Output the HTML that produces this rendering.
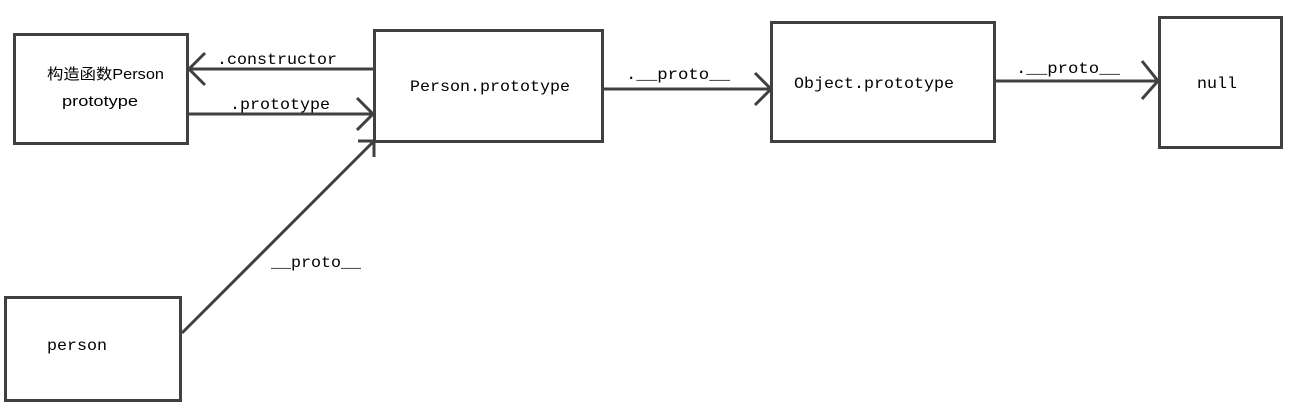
<!DOCTYPE html>
<html><head><meta charset="utf-8"><style>
html,body{margin:0;padding:0;background:#fff;width:1304px;height:420px;overflow:hidden}
</style></head><body>
<svg width="1304" height="420" xmlns="http://www.w3.org/2000/svg">
<g fill="none" stroke="#404040" stroke-width="3">
<rect x="14.5" y="34.5" width="173" height="109"/>
<rect x="374.5" y="30.5" width="228" height="111"/>
<rect x="771.5" y="22.5" width="223" height="119"/>
<rect x="1159.5" y="17.5" width="122" height="130"/>
<rect x="5.5" y="297.5" width="175" height="103"/>
<line x1="374" y1="69" x2="189" y2="69"/>
<polyline points="205,53 189,69 205,85"/>
<line x1="188" y1="114" x2="373" y2="114"/>
<polyline points="357,98 373,114 357,130"/>
<line x1="602" y1="89" x2="771" y2="89"/>
<polyline points="755,73 771,89 755,105"/>
<line x1="994" y1="81" x2="1158" y2="81"/>
<polyline points="1142,61 1158,81 1142,99"/>
<line x1="182" y1="333" x2="374" y2="141"/>
<polyline points="358,141 374,141 374,157"/>
</g>
<g fill="#000" font-family="'Liberation Mono','Noto Serif CJK SC',monospace" font-size="16">
<text x="217" y="64" textLength="120" lengthAdjust="spacingAndGlyphs">.constructor</text>
<text x="230" y="109" textLength="100" lengthAdjust="spacingAndGlyphs">.prototype</text>
<text x="410" y="91" textLength="160" lengthAdjust="spacingAndGlyphs">Person.prototype</text>
<text x="626" y="79" textLength="104" lengthAdjust="spacingAndGlyphs">.__proto__</text>
<text x="794" y="88" textLength="160" lengthAdjust="spacingAndGlyphs">Object.prototype</text>
<text x="1016" y="73" textLength="104" lengthAdjust="spacingAndGlyphs">.__proto__</text>
<text x="1197" y="88" textLength="40" lengthAdjust="spacingAndGlyphs">null</text>
<text x="271" y="267" textLength="90" lengthAdjust="spacingAndGlyphs">__proto__</text>
<text x="47" y="350" textLength="60" lengthAdjust="spacingAndGlyphs">person</text>
</g>
<g fill="#000" font-family="'Liberation Sans','Noto Sans CJK SC',sans-serif" font-size="15">
<text x="47" y="79" textLength="117" lengthAdjust="spacingAndGlyphs">构造函数Person</text>
<text x="62" y="106" textLength="76" lengthAdjust="spacingAndGlyphs">prototype</text>
</g>
</svg>
</body></html>
